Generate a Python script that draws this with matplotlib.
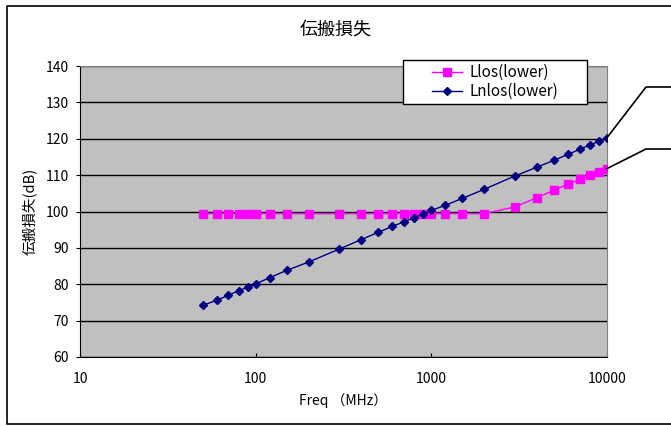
import numpy as np
import matplotlib
matplotlib.use('Agg')
import matplotlib.pyplot as plt
from matplotlib.lines import Line2D
from matplotlib.patches import Rectangle
from matplotlib.transforms import IdentityTransform

plt.rcParams['font.family'] = ['Noto Sans CJK JP', 'DejaVu Sans']

freq = [50, 60, 70, 80, 90, 100, 120, 150, 200, 300, 400, 500, 600, 700, 800, 900,
        1000, 1200, 1500, 2000, 3000, 4000, 5000, 6000, 7000, 8000, 9000, 10000]
llos = [99.4, 99.4, 99.4, 99.4, 99.4, 99.4, 99.4, 99.4, 99.4, 99.4, 99.4, 99.4, 99.4, 99.4,
        99.4, 99.4, 99.4, 99.4, 99.4, 99.4, 101.3, 103.8, 105.9, 107.5, 108.8, 109.9, 110.9, 111.8]
lnlos = [74.2, 75.6, 77.0, 78.2, 79.2, 80.1, 81.8, 83.8, 86.1, 89.7, 92.3, 94.3, 95.9, 97.2,
         98.3, 99.4, 100.3, 101.7, 103.6, 106.1, 109.8, 112.2, 114.1, 115.7, 117.1, 118.3, 119.3, 120.3]
xticks = [10, 100, 1000, 10000]
yticks = list(range(60, 141, 10))

W, H = 671, 426
fig = plt.figure(figsize=(W/100, H/100), dpi=100)
ax = fig.add_axes([80/W, 1-357/H, (607-80)/W, (357-66)/H])
ax.set_facecolor('#C0C0C0')

ax.plot(freq, llos, color='#FF00FF', lw=1, marker='s', ms=6, mec='#FF00FF', mfc='#FF00FF',
        label='Llos(lower)', zorder=3)
ax.plot(freq, lnlos, color='#000080', lw=1, marker='D', ms=4.5, mec='#000080', mfc='#000080',
        label='Lnlos(lower)', zorder=3)

ax.set_xscale('log')
ax.set_xlim(10, 10000)
ax.set_ylim(60, 140)
ax.set_xticks(xticks)
ax.set_xticklabels([str(v) for v in xticks])
ax.minorticks_off()
ax.set_yticks(yticks)
ax.set_yticklabels([str(v) for v in yticks])
ax.yaxis.grid(True, color='black', lw=1)
ax.set_axisbelow(True)
ax.tick_params(axis='x', direction='in', length=3, labelsize=10, pad=11, colors='black')
ax.tick_params(axis='y', direction='out', length=3, labelsize=10, pad=5)
for s in ['top', 'right']:
    ax.spines[s].set_color('#808080')
for s in ['left', 'bottom']:
    ax.spines[s].set_color('black')

ax.set_xlabel('Freq （MHz）', fontsize=10, labelpad=5)
ax.set_ylabel('伝搬損失(dB)', fontsize=10.5, labelpad=6)
fig.text(0.5, 1-30/H, '伝搬損失', ha='center', va='center', fontsize=13)

# legend box (drawn separately so the entries sit centred in it)
aw, ah = 607-80, 357-66
bx0, by0 = (403-80)/aw, (357-104)/ah
bw, bh = (587-403)/aw, 44/ah
ax.add_patch(Rectangle((bx0, by0), bw, bh, transform=ax.transAxes, facecolor='white',
                       edgecolor='black', lw=1, clip_on=False, zorder=4))
leg = ax.legend(loc='center', bbox_to_anchor=(bx0 + bw/2, by0 + bh/2),
                fontsize=11, frameon=False, handlelength=2.0, handletextpad=0.45,
                labelspacing=0.15, borderpad=0, borderaxespad=0)
leg.set_zorder(5)

# outer border
fig.add_artist(Line2D([1.0, 7/W, 7/W, 1.0], [1-6/H, 1-6/H, 1-424/H, 1-424/H],
                      transform=fig.transFigure, color='black', lw=1.2))

# callout leader lines
fig.canvas.draw()
for yv, ytxt in [(lnlos[-1], 87), (llos[-1], 149)]:
    px, py = ax.transData.transform((freq[-1], yv))
    fig.add_artist(Line2D([px, 646, W], [py, H-ytxt, H-ytxt], transform=IdentityTransform(),
                          color='black', lw=1.2, clip_on=False))

fig.savefig('out.png', dpi=100)
